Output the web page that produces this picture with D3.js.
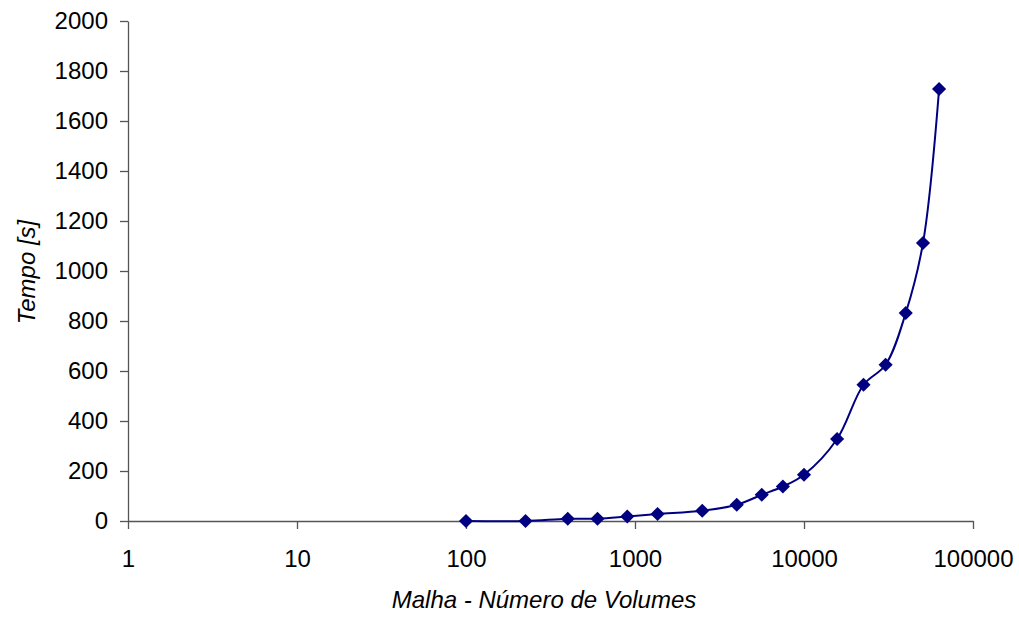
<!DOCTYPE html>
<html>
<head>
<meta charset="utf-8">
<script src="https://cdn.jsdelivr.net/npm/d3@7"></script>
<style>
  body { margin: 0; background: #fff; }
  text { font-family: "Liberation Sans", Arial, sans-serif; }
</style>
</head>
<body>
<svg id="chart" width="1019" height="618"></svg>
<script>
// Data
const volumes = [100, 225, 400, 600, 900, 1360, 2500, 4000, 5625, 7500, 10000, 15700, 22500, 30400, 40000, 50600, 63000];
const tempos = [0, 0, 9, 9, 18, 28, 41, 65, 105, 138, 185, 328, 545, 625, 832, 1112, 1728];
const xTicks = [1, 10, 100, 1000, 10000, 100000];
const yTicks = [0, 200, 400, 600, 800, 1000, 1200, 1400, 1600, 1800, 2000];

function renderChart() {
  const svg = d3.select('#chart');
  const margin = {top: 21, right: 46, bottom: 97, left: 128};
  const width = 1019, height = 618;
  const chartWidth = width - margin.left - margin.right;
  const chartHeight = height - margin.top - margin.bottom;

  const g = svg.append('g').attr('transform', `translate(${margin.left},${margin.top})`);

  // Scales
  const x = d3.scaleLog().domain([1, 100000]).range([0, chartWidth]);
  const y = d3.scaleLinear().domain([0, 2000]).range([chartHeight, 0]);

  // X Axis
  const xAxis = g.append('g')
    .attr('transform', `translate(0,${chartHeight})`)
    .call(d3.axisBottom(x).tickValues(xTicks).tickFormat(d3.format('d')).tickSize(8).tickSizeOuter(0).tickPadding(21));

  // Y Axis
  const yAxis = g.append('g')
    .call(d3.axisLeft(y).tickValues(yTicks).tickFormat(d3.format('d')).tickSize(8).tickSizeOuter(0).tickPadding(12));

  [xAxis, yAxis].forEach(a => {
    a.selectAll('path, line').attr('stroke', '#555').attr('stroke-width', 1.3);
    a.selectAll('text').attr('font-size', '24px').attr('fill', '#000')
      .attr('font-family', '"Liberation Sans", Arial, sans-serif');
  });

  // Line
  g.append('path')
    .datum(volumes)
    .attr('fill', 'none')
    .attr('stroke', '#000080')
    .attr('stroke-width', 2)
    .attr('d', d3.line()
      .x(d => x(d))
      .y((d, i) => y(tempos[i]))
      .curve(d3.curveCatmullRom.alpha(0.5))
    );

  // Points (diamonds)
  g.selectAll('.pt')
    .data(volumes)
    .enter()
    .append('path')
    .attr('class', 'pt')
    .attr('transform', (d, i) => `translate(${x(d)},${y(tempos[i])}) rotate(45)`)
    .attr('d', d3.symbol().type(d3.symbolSquare).size(100))
    .attr('fill', '#000080');

  // Axis titles
  svg.append('text')
    .attr('x', 544)
    .attr('y', 608)
    .attr('text-anchor', 'middle')
    .attr('font-size', '24px')
    .attr('font-style', 'italic')
    .text('Malha - Número de Volumes');

  svg.append('text')
    .attr('transform', 'translate(35,272) rotate(-90)')
    .attr('text-anchor', 'middle')
    .attr('font-size', '24px')
    .attr('font-style', 'italic')
    .text('Tempo [s]');
}

renderChart();
</script>
</body>
</html>
